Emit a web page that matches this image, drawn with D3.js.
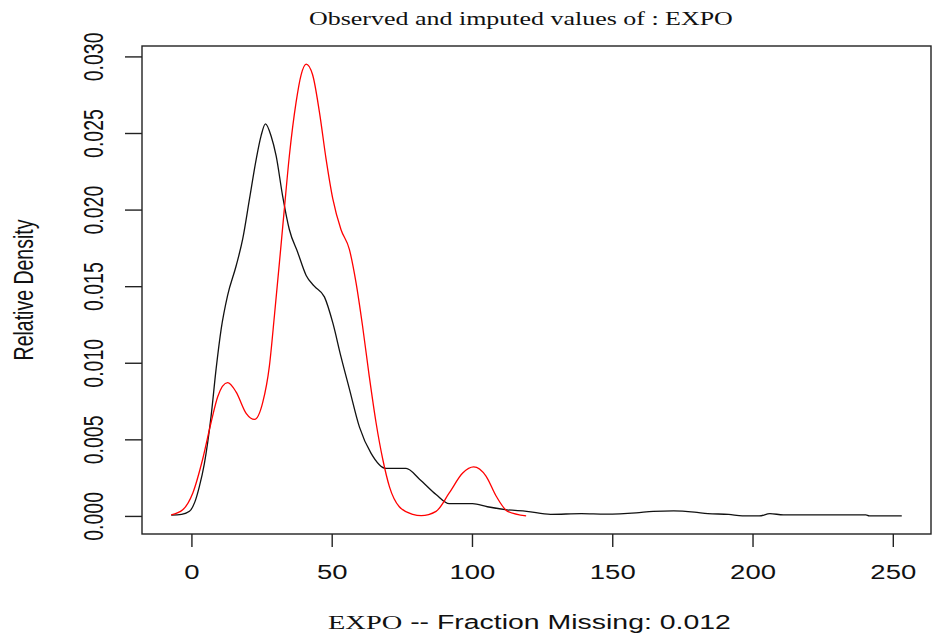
<!DOCTYPE html>
<html>
<head>
<meta charset="utf-8">
<script src="https://cdn.jsdelivr.net/npm/d3@7/dist/d3.min.js"></script>
<style>
  html, body { margin: 0; padding: 0; background: #fff; }
  svg { display: block; }
</style>
</head>
<body>
<svg id="chart" width="938" height="641"></svg>
<script>
// ---- data ----
const titleText = "Observed and imputed values of : EXPO";
const xLabelVar = "EXPO";
const xLabelRest = " --  Fraction Missing: 0.012";
const yLabelText = "Relative Density";
const xTicks = [0, 50, 100, 150, 200, 250];
const yTicks = [0.000, 0.005, 0.010, 0.015, 0.020, 0.025, 0.030];

// observed density (black)
const observedX = [-7.2, -3.5, -0.7, 1.2, 2.8, 4.6, 7.0, 8.8, 10.6, 12.9, 15.9, 18.3, 20.7, 23.1, 24.8, 26.4, 28.4, 30.2, 32.5, 34.9, 37.9, 40.9, 43.8, 47.4, 50.4, 53.3, 56.3, 59.9, 64.0, 69.4, 76.5, 81.3, 87.2, 91.9, 100.2, 105.5, 112.5, 119.5, 128.0, 139.0, 147.5, 158.5, 164.6, 171.9, 179.3, 184.1, 191.5, 196.4, 202.4, 206.2, 211.0, 240.4, 241.6, 253.2];
const observedY = [0.00005, 0.0001, 0.0003, 0.0009, 0.0019, 0.0034, 0.0065, 0.0096, 0.0122, 0.0144, 0.0163, 0.0181, 0.0207, 0.0233, 0.0248, 0.0256, 0.0248, 0.0235, 0.0209, 0.0187, 0.0172, 0.0157, 0.0150, 0.0143, 0.0126, 0.0104, 0.0083, 0.0058, 0.0041, 0.0031, 0.0031, 0.0024, 0.0014, 0.0008, 0.0008, 0.0006, 0.0004, 0.0003, 0.0001, 0.00015, 0.00012, 0.0002, 0.0003, 0.00033, 0.00025, 0.00015, 0.0001, 0.0, 0.0, 0.00015, 0.00007, 0.00007, 0.0, 0.0];

// imputed density (red)
const imputedX = [-7.2, -3.1, 0.5, 4.0, 7.0, 9.4, 12.9, 15.9, 19.5, 22.5, 25.4, 27.8, 29.6, 31.4, 33.1, 34.9, 37.3, 39.1, 40.9, 43.2, 45.6, 48.0, 50.4, 53.3, 56.3, 58.7, 61.0, 63.4, 65.8, 68.2, 70.6, 74.1, 78.9, 81.9, 87.2, 91.9, 96.7, 100.6, 105.0, 108.6, 112.7, 119.3];
const imputedY = [0.00007, 0.0004, 0.0015, 0.0037, 0.0061, 0.0078, 0.0087, 0.0081, 0.0067, 0.0063, 0.0074, 0.0098, 0.0131, 0.0166, 0.0200, 0.0235, 0.0270, 0.0288, 0.0295, 0.0288, 0.0264, 0.0233, 0.0207, 0.0187, 0.0174, 0.0152, 0.0124, 0.0091, 0.0061, 0.0037, 0.0019, 0.0006, 0.0001, 0.00002, 0.0003, 0.0015, 0.0028, 0.0032, 0.0026, 0.0013, 0.0003, 0.0];

// ---- layout ----
const svg = d3.select("#chart");
const box = { left: 142, right: 931, top: 46, bottom: 534 };
const SANS = "'Liberation Sans', Arial, sans-serif";
const SERIF = "'Liberation Serif', 'Times New Roman', serif";
const FS = 19.5;       // font size
const SX = 1.41;       // horizontal stretch of the original picture

const allX = observedX.concat(imputedX);
const allY = observedY.concat(imputedY);
const xMin = d3.min(allX), xMax = d3.max(allX);
const yMin = 0, yMax = d3.max(allY);
const xPad = (xMax - xMin) * 0.04, yPad = (yMax - yMin) * 0.04;

const x = d3.scaleLinear().domain([xMin - xPad, xMax + xPad]).range([box.left, box.right]);
const y = d3.scaleLinear().domain([yMin - yPad, yMax + yPad]).range([box.bottom, box.top]);

const line = d3.line().x(d => x(d[0])).y(d => y(d[1])).curve(d3.curveMonotoneX);

const obs = d3.zip(observedX, observedY);
const imp = d3.zip(imputedX, imputedY);

svg.append("path").datum(obs)
  .attr("d", line).attr("fill", "none").attr("stroke", "#111").attr("stroke-width", 1.3);
svg.append("path").datum(imp)
  .attr("d", line).attr("fill", "none").attr("stroke", "#ff0000").attr("stroke-width", 1.3);

// frame
svg.append("rect")
  .attr("x", box.left).attr("y", box.top)
  .attr("width", box.right - box.left).attr("height", box.bottom - box.top)
  .attr("fill", "none").attr("stroke", "#222").attr("stroke-width", 1.4);

// x axis
const xAxis = d3.axisBottom(x).tickValues(xTicks).tickSize(13).tickSizeOuter(0).tickPadding(0).tickFormat(d3.format("d"));
const gx = svg.append("g").attr("transform", `translate(0,${box.bottom})`).call(xAxis);
gx.select(".domain").remove();
gx.selectAll(".tick line").attr("stroke", "#222").attr("stroke-width", 1.4);
gx.selectAll(".tick text")
  .attr("y", 0).attr("dy", 0)
  .attr("transform", `translate(0,45) scale(${SX},1)`)
  .attr("font-family", SANS).attr("font-size", FS).attr("fill", "#111")
  .attr("text-anchor", "middle");

// y axis
const yAxis = d3.axisLeft(y).tickValues(yTicks).tickSize(17).tickSizeOuter(0).tickPadding(0).tickFormat(d3.format(".3f"));
const gy = svg.append("g").attr("transform", `translate(${box.left},0)`).call(yAxis);
gy.select(".domain").remove();
gy.selectAll(".tick line").attr("stroke", "#222").attr("stroke-width", 1.4);
gy.selectAll(".tick text")
  .attr("x", 0).attr("dy", 0)
  .attr("transform", `translate(-39,0) scale(${SX},1) rotate(-90)`)
  .attr("font-family", SANS).attr("font-size", FS).attr("fill", "#111")
  .attr("text-anchor", "middle");

// y label
svg.append("text")
  .attr("transform", `translate(33,${(box.top + box.bottom) / 2}) scale(${SX},1) rotate(-90)`)
  .attr("text-anchor", "middle")
  .attr("font-family", SANS).attr("font-size", FS).attr("fill", "#111")
  .text(yLabelText);

// helper: fit text horizontally between x0 and x1
function fitText(sel, x0, x1, yBase) {
  const w = sel.node().getComputedTextLength();
  const s = (x1 - x0) / w;
  sel.attr("transform", `translate(${x0},${yBase}) scale(${s},1)`);
}

// title
const title = svg.append("text")
  .attr("font-family", SERIF).attr("font-size", FS).attr("fill", "#111")
  .text(titleText);
fitText(title, 309, 733, 25);

// x label
const xl = svg.append("text")
  .attr("font-family", SANS).attr("font-size", FS).attr("fill", "#111");
xl.append("tspan").attr("font-family", SERIF).text(xLabelVar);
xl.append("tspan").text(xLabelRest);
fitText(xl, 328, 731, 629);
</script>
</body>
</html>
